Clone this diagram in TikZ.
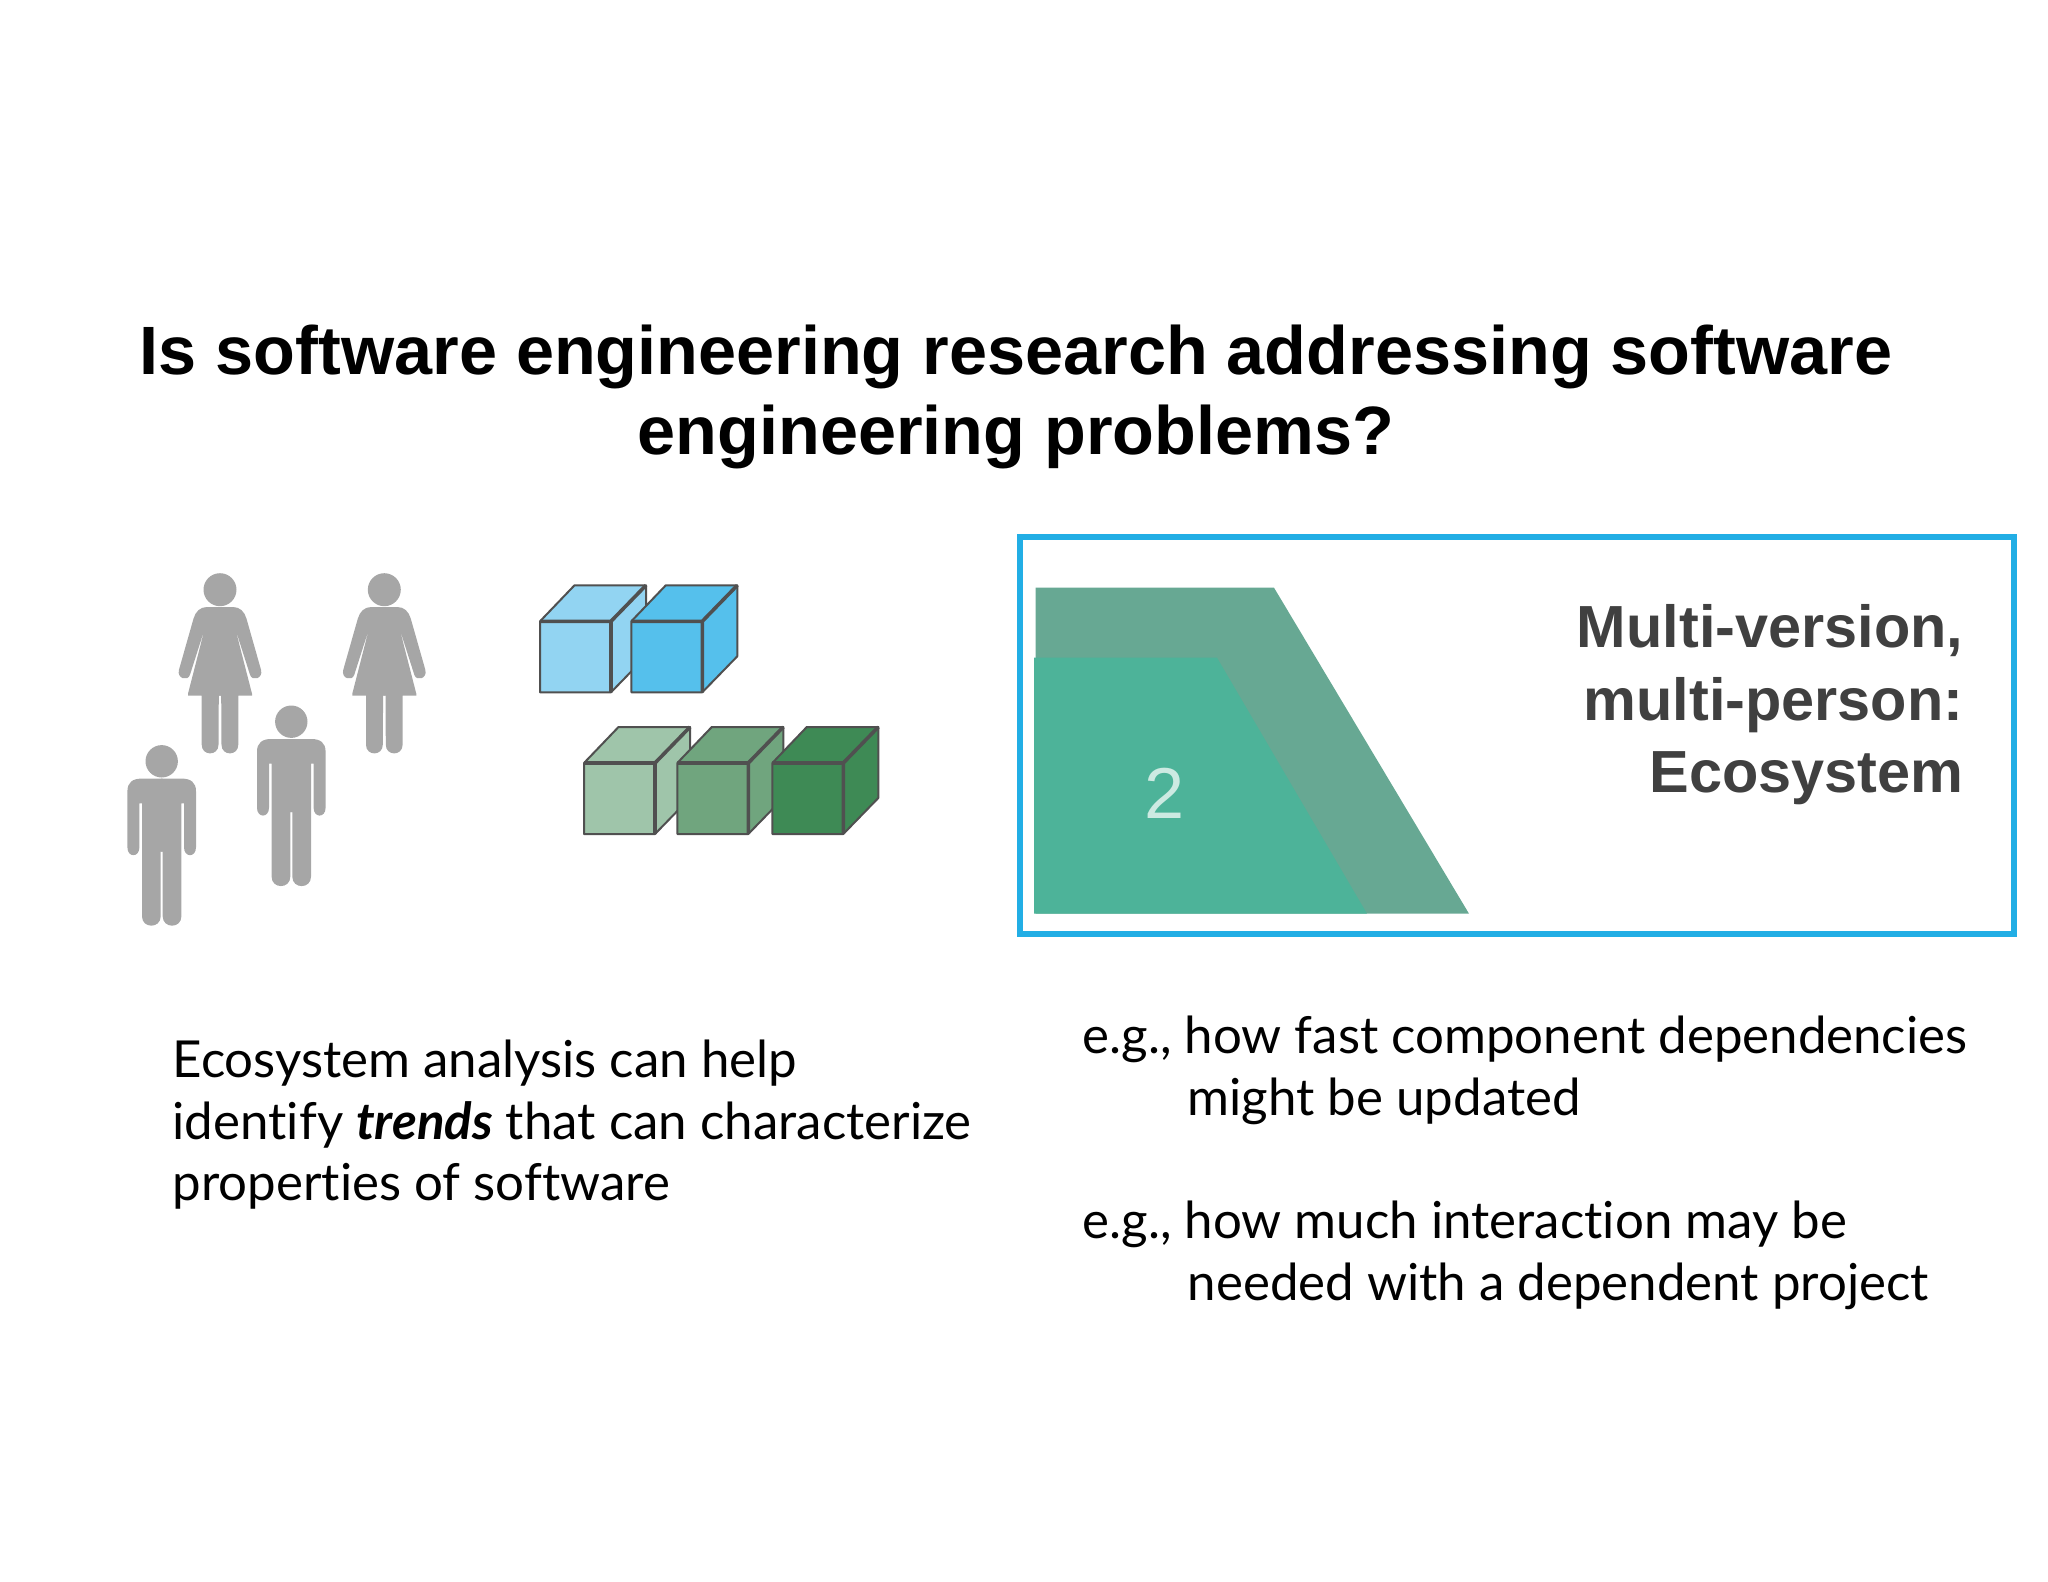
\documentclass[tikz,border=0pt]{standalone}
\usepackage{fontspec}
\setmainfont{Lato}[Ligatures={NoCommon}]
\newfontfamily\titlefont{Liberation Sans}
\definecolor{personGray}{HTML}{A6A6A6}
\definecolor{edgeGray}{HTML}{505050}
\definecolor{frameBlue}{HTML}{22AEE5}
\definecolor{bandDark}{HTML}{67A893}
\definecolor{bandLight}{HTML}{4DB399}
\definecolor{digitPale}{HTML}{CDEAE2}
\definecolor{labelGray}{HTML}{404040}
\definecolor{cubeA}{HTML}{92D4F2}
\definecolor{cubeB}{HTML}{55C0EC}
\definecolor{cubeC}{HTML}{9FC5AA}
\definecolor{cubeD}{HTML}{70A57E}
\definecolor{cubeE}{HTML}{3E8A55}
\tikzset{
    bodytext/.style={anchor=north west, inner sep=0pt, align=left, font=\fontsize{14.5}{17.5}\selectfont},
    pics/woman/.style={code={
        \fill[personGray] (0,0) circle (16.5);
        \foreach \s in {-1,1}
            \fill[personGray] (-\s*1,17.3) -- (\s*13,17.3) .. controls (\s*20,17.3) and (\s*24.5,22) .. (\s*26.5,29)
                -- (\s*41,80) .. controls (\s*43.5,89) and (\s*32,92) .. (\s*30,85)
                -- (\s*15.3,39) -- (\s*32,104) -- (\s*32,106) -- (\s*18.3,106)
                -- (\s*18.3,155) .. controls (\s*18.3,166.6) and (\s*1.5,166.6) .. (\s*1.5,155)
                -- (\s*1.2,106) -- (-\s*1,106) -- cycle;
    }},
    pics/man/.style={code={
        \fill[personGray] (0,0) circle (16.2);
        \foreach \s in {-1,1}
            \fill[personGray] (-\s*0.8,17.3) -- (\s*20,17.3) .. controls (\s*29,17.3) and (\s*34.3,21) .. (\s*34.3,30)
                -- (\s*34.3,86) .. controls (\s*34.3,96.5) and (\s*22.3,96.5) .. (\s*22.3,86)
                -- (\s*22.3,42) -- (\s*19.7,42)
                -- (\s*19.7,155) .. controls (\s*19.7,167.5) and (\s*1,167.5) .. (\s*1,155)
                -- (\s*1,90.3) -- (-\s*0.8,90.3) -- cycle;
    }},
    pics/cube/.style={code={
        \filldraw[fill=#1, draw=edgeGray, line width=0.02cm, line join=round]
            (0,0) rectangle (71,-71)
            (0,-71) -- (34.5,-107) -- (106,-107) -- (71,-71) -- cycle
            (71,0) -- (106,-36) -- (106,-107) -- (71,-71) -- cycle;
        \draw[edgeGray, line width=0.036cm, line join=round] (0,-71) -- (71,-71) -- (71,0) (71,-71) -- (106,-107);
    }}
}
\begin{document}
\begin{tikzpicture}[x=0.01cm, y=-0.01cm]
    \useasboundingbox (0,0) rectangle (2048,1582);

    % Title
    \node[inner sep=0pt, align=center, font=\fontsize{19.45}{23}\selectfont\titlefont\bfseries] (title) at (1016,397)
        {Is software engineering research addressing software\\engineering problems?};

    % People
    \pic at (220,589.7) {woman};
    \pic at (384.3,589.7) {woman};
    \pic at (161.7,761.3) {man};
    \pic at (291.3,721.7) {man};

    % Cubes
    \pic at (540,692.3) {cube=cubeA};
    \pic at (631.3,692.3) {cube=cubeB};
    \pic at (584,834) {cube=cubeC};
    \pic at (677.3,834) {cube=cubeD};
    \pic at (772.3,834) {cube=cubeE};

    % Frame
    \draw[frameBlue, line width=0.06cm] (1020,537) rectangle (2014,934);
    \fill[bandDark] (1035.5,587.7) -- (1274,587.7) -- (1469,913.7) -- (1035.5,913.7) -- cycle;
    \fill[bandLight] (1034,657.7) -- (1217,657.7) -- (1367,913.7) -- (1034,913.7) -- cycle;
    \node[inner sep=0pt, text=digitPale, font=\fontsize{20.5}{24}\selectfont\titlefont] (digit) at (1165,793) {2};
    \node[anchor=east, inner sep=0pt, align=right, text=labelGray, font=\fontsize{16.9}{20.6}\selectfont\titlefont\bfseries] (layer) at (1964,705)
        {Multi-version,\\multi-person:\\Ecosystem};

    % Texts
    \node[bodytext] (trends) at (172,1039.5)
        {Ecosystem analysis can help\\identify \textbf{\textit{trends}} that can characterize\\properties of software};
    \node[bodytext] (speed) at (1082,1015.5)
        {e.g., how fast component dependencies\\\hspace*{1.05cm}might be updated};
    \node[bodytext] (effort) at (1082,1200.5)
        {e.g., how much interaction may be\\\hspace*{1.05cm}needed with a dependent project};
\end{tikzpicture}
\end{document}
